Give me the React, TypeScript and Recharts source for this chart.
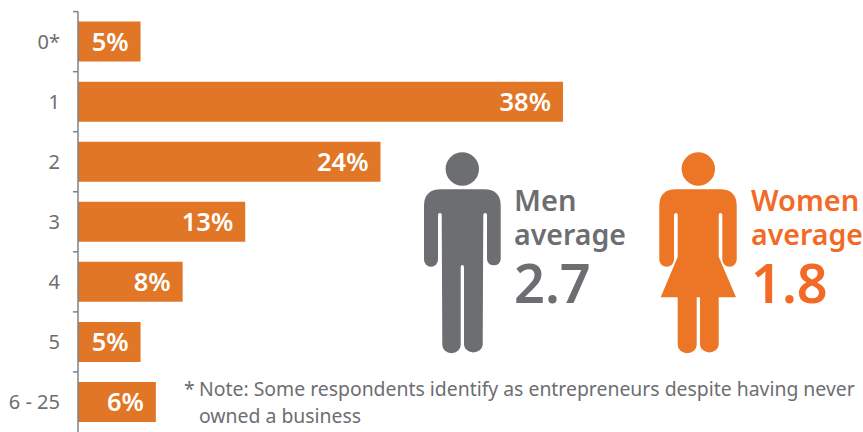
import React from 'react';
import { BarChart, Bar, XAxis, YAxis, LabelList } from 'recharts';

const categories = ['0*', '1', '2', '3', '4', '5', '6 - 25'];
const shares = [4.9, 38, 23.7, 13.1, 8.2, 4.9, 6.1];
const shareLabels = ['5%', '38%', '24%', '13%', '8%', '5%', '6%'];

const rows = categories.map((bucket, i) => ({ bucket, share: shares[i], label: shareLabels[i] }));

const WIDTH = 863;
const HEIGHT = 432;
const TOP = 11.6;
const AXIS_W = 78;
const STEP = (HEIGHT - TOP) / categories.length;
const GREY = '#6d6e71';
const FONT = '"Noto Sans", sans-serif';

const BandTick = ({ y, payload }: any) => {
  const right = AXIS_W - 18;
  return (
    <g>
      <line x1={AXIS_W - 5} x2={AXIS_W} y1={y - STEP / 2} y2={y - STEP / 2} stroke="#808285" strokeWidth={1.5} />
      <text x={right} y={y + 7} textAnchor="end" fontSize={20} fontFamily={FONT} fill={GREY}>
        {payload.value}
      </text>
    </g>
  );
};

const Man = ({ fill }: { fill: string }) => (
  <g fill={fill}>
    <circle cx={462.3} cy={169} r={16.7} />
    <path d="M424 206 Q424 189.3 441 189.3 L484 189.3 Q500.7 189.3 500.7 206 L500.7 259.7 A7 7 0 0 1 487 259.7 L487 215 Q487 213 485 213 Q483.3 213 483.3 215 L482.7 345 A9.4 8.3 0 0 1 464 345 L464 267 Q464 265 462.3 265 Q460.7 265 460.7 267 L460.7 345 A9.2 8.3 0 0 1 442.3 345 L441.7 215 Q441.7 213 440 213 Q438 213 438 215 L438 259.7 A7 7 0 0 1 424 259.7 Z" />
  </g>
);

const Woman = ({ fill }: { fill: string }) => (
  <g fill={fill}>
    <circle cx={698.3} cy={169} r={16.7} />
    <path d="M659.3 206 Q659.3 189.3 676 189.3 L720 189.3 Q736.7 189.3 736.7 206 L736.7 259.7 A7.2 7 0 0 1 722.3 259.7 L722.3 215 Q722.3 213 720.5 213 Q718.7 213 718.7 215 L718.7 256.7 L736 297.3 L718.7 297.3 L718.7 345 A9.4 8.3 0 0 1 700 345 L700 297.3 L696.7 297.3 L696.7 345 A9.5 8.3 0 0 1 677.7 345 L677.7 297.3 L660.7 297.3 L677.7 256.7 L677.7 215 Q677.7 213 676 213 Q674 213 674 215 L674 259.7 A7.3 7 0 0 1 659.3 259.7 Z" />
  </g>
);

export default function App() {
  return (
    <div style={{ position: 'absolute', left: 0, top: 0, width: WIDTH, height: HEIGHT, overflow: 'hidden', background: '#fff' }}>
      <BarChart
        width={WIDTH}
        height={HEIGHT}
        data={rows}
        layout="vertical"
        margin={{ top: TOP, right: 0, left: 0, bottom: 0 }}
        barSize={40}
      >
        <XAxis type="number" hide domain={[0, 61.5]} />
        <YAxis
          type="category"
          dataKey="bucket"
          width={AXIS_W}
          axisLine={{ stroke: '#808285', strokeWidth: 1.5 }}
          tickLine={false}
          interval={0}
          tick={<BandTick />}
        />
        <Bar dataKey="share" fill="#e07626" isAnimationActive={false}>
          <LabelList
            dataKey="label"
            position="insideRight"
            offset={12}
            fill="#fff"
            fontSize={25.5}
            fontWeight={600}
            fontFamily={FONT}
          />
        </Bar>
      </BarChart>

      <svg width={WIDTH} height={HEIGHT} style={{ position: 'absolute', left: 0, top: 0 }} fontFamily={FONT}>
        <Man fill={GREY} />
        <Woman fill="#ec7625" />

        <g fill={GREY} fontWeight={600}>
          <text x={514} y={211} fontSize={29}>Men</text>
          <text x={514} y={245} fontSize={28.5}>average</text>
          <text x={514} y={303} fontSize={54}>2.7</text>
        </g>
        <g fill="#f26a25" fontWeight={600}>
          <text x={751} y={211} fontSize={29}>Women</text>
          <text x={751} y={245} fontSize={28.5}>average</text>
          <text x={751} y={303} fontSize={54}>1.8</text>
        </g>

        <g fill={GREY} fontSize={19.4}>
          <text x={184} y={396}>*</text>
          <text x={199} y={396}>Note: Some respondents identify as entrepreneurs despite having never</text>
          <text x={199} y={423}>owned a business</text>
        </g>
      </svg>
    </div>
  );
}
